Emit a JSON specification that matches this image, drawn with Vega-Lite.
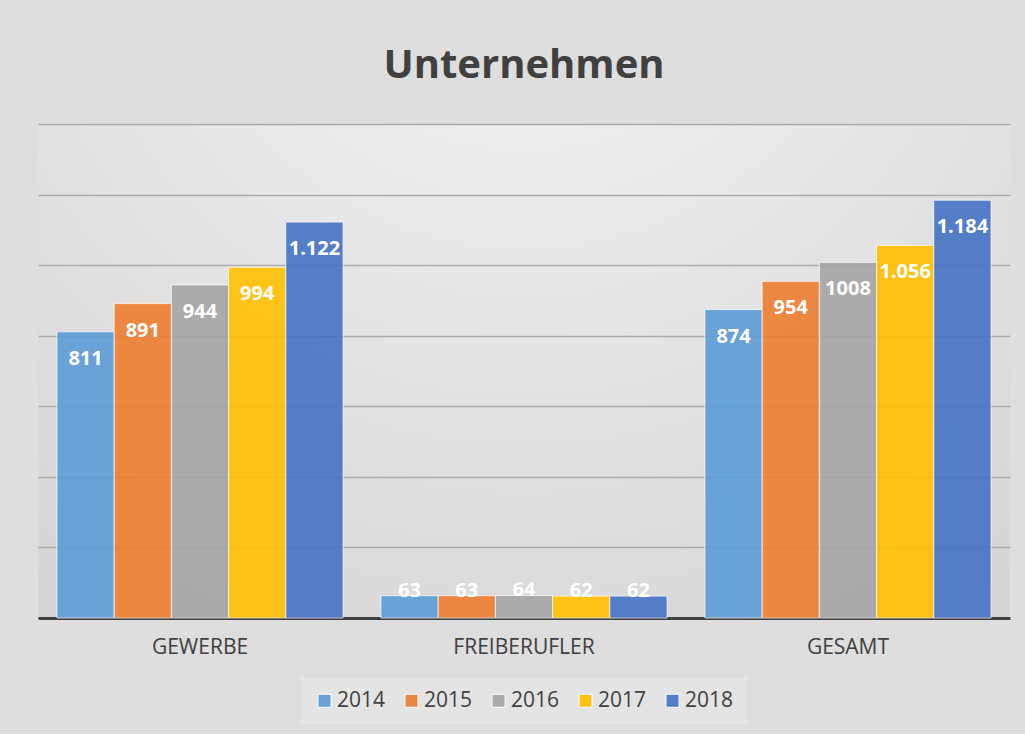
{
  "$schema": "https://vega.github.io/schema/vega-lite/v6.json",
  "width": 972,
  "height": 494,
  "padding": {"left": 38, "right": 15, "top": 46, "bottom": 10},
  "background": "#dedede",
  "title": {"text": "Unternehmen", "fontSize": 40, "font": "Open Sans", "fontWeight": "bold", "color": "#404040", "offset": 38, "anchor": "middle"},
  "data": {"values": [
    {"kategorie": "GEWERBE", "jahr": "2014", "wert": 811, "label": "811"},
    {"kategorie": "GEWERBE", "jahr": "2015", "wert": 891, "label": "891"},
    {"kategorie": "GEWERBE", "jahr": "2016", "wert": 944, "label": "944"},
    {"kategorie": "GEWERBE", "jahr": "2017", "wert": 994, "label": "994"},
    {"kategorie": "GEWERBE", "jahr": "2018", "wert": 1122, "label": "1.122"},
    {"kategorie": "FREIBERUFLER", "jahr": "2014", "wert": 63, "label": "63"},
    {"kategorie": "FREIBERUFLER", "jahr": "2015", "wert": 63, "label": "63"},
    {"kategorie": "FREIBERUFLER", "jahr": "2016", "wert": 64, "label": "64"},
    {"kategorie": "FREIBERUFLER", "jahr": "2017", "wert": 62, "label": "62"},
    {"kategorie": "FREIBERUFLER", "jahr": "2018", "wert": 62, "label": "62"},
    {"kategorie": "GESAMT", "jahr": "2014", "wert": 874, "label": "874"},
    {"kategorie": "GESAMT", "jahr": "2015", "wert": 954, "label": "954"},
    {"kategorie": "GESAMT", "jahr": "2016", "wert": 1008, "label": "1008"},
    {"kategorie": "GESAMT", "jahr": "2017", "wert": 1056, "label": "1.056"},
    {"kategorie": "GESAMT", "jahr": "2018", "wert": 1184, "label": "1.184"}
  ]},
  "encoding": {
    "x": {
      "field": "kategorie", "type": "nominal",
      "sort": ["GEWERBE", "FREIBERUFLER", "GESAMT"],
      "scale": {"paddingInner": 0.117, "paddingOuter": 0.0586},
      "axis": {"title": null, "labelAngle": 0, "labelFontSize": 21, "labelFont": "Open Sans", "labelColor": "#404040", "labelPadding": 18, "ticks": false, "domainColor": "#404040", "domainWidth": 3, "grid": false}
    },
    "xOffset": {"field": "jahr", "type": "nominal", "scale": {"paddingInner": 0, "paddingOuter": 0}},
    "y": {
      "field": "wert", "type": "quantitative",
      "scale": {"domain": [0, 1400], "nice": false},
      "axis": {"title": null, "labels": false, "ticks": false, "domain": false, "values": [200, 400, 600, 800, 1000, 1200, 1400], "gridColor": "#ababab", "gridWidth": 1.5}
    }
  },
  "layer": [
    {
      "mark": {"type": "bar", "stroke": "#ffffff", "strokeWidth": 1, "strokeOpacity": 0.7, "fillOpacity": 0.9},
      "encoding": {
        "color": {
          "field": "jahr", "type": "nominal",
          "scale": {"domain": ["2014", "2015", "2016", "2017", "2018"], "range": ["#5B9BD5", "#ED7D31", "#A5A5A5", "#FFC000", "#4472C4"]},
          "legend": {"title": null, "orient": "bottom", "direction": "horizontal", "symbolType": "square", "symbolSize": 169, "symbolStrokeColor": "#ffffff", "symbolStrokeWidth": 1, "symbolOpacity": 0.9, "labelFontSize": 21, "labelFont": "Open Sans", "labelColor": "#404040", "fillColor": "#e4e4e4", "padding": 13, "columnPadding": 15, "labelOffset": 2, "offset": 20}
        }
      }
    },
    {
      "transform": [{"filter": "datum.wert >= 200"}],
      "mark": {"type": "text", "color": "#ffffff", "fontWeight": "bold", "fontSize": 20, "font": "Open Sans", "baseline": "middle", "dy": 27},
      "encoding": {"text": {"field": "label", "type": "nominal"}}
    },
    {
      "transform": [{"filter": "datum.wert < 200"}],
      "mark": {"type": "text", "color": "#ffffff", "fontWeight": "bold", "fontSize": 20, "font": "Open Sans", "baseline": "middle", "dy": -5},
      "encoding": {"text": {"field": "label", "type": "nominal"}}
    }
  ],
  "config": {
    "view": {"stroke": null, "fill": {"gradient": "radial", "x1": 0.5, "y1": 0, "r1": 0, "x2": 0.5, "y2": 0, "r2": 1.1, "stops": [{"offset": 0, "color": "#f6f6f6"}, {"offset": 1, "color": "#cdcdcd"}]}},
    "legend": {"layout": {"bottom": {"anchor": "middle"}}}
  }
}
